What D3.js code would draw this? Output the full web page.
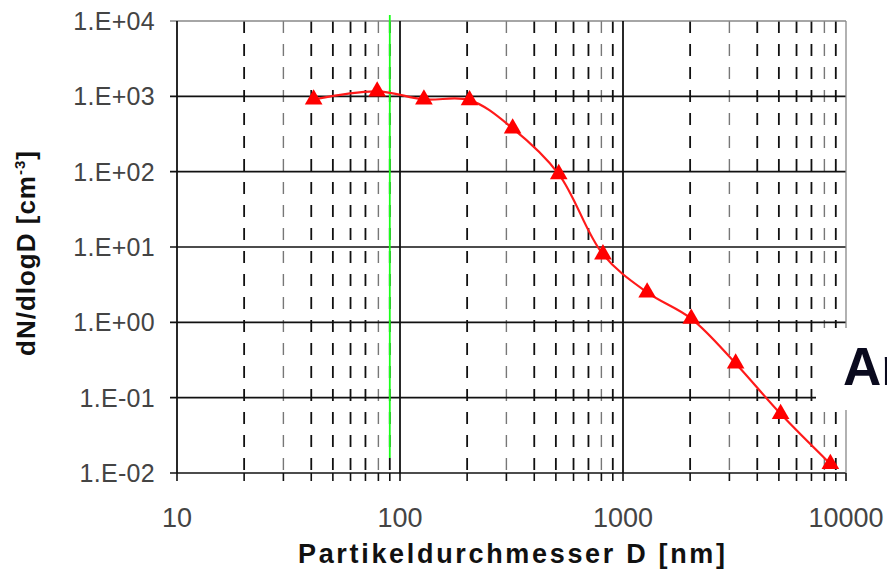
<!DOCTYPE html>
<html>
<head>
<meta charset="utf-8">
<script src="https://cdn.jsdelivr.net/npm/d3@7"></script>
<style>
  html, body { margin: 0; padding: 0; background: #fff; }
  svg { display: block; }
</style>
</head>
<body>
<svg id="chart" width="887" height="575"></svg>
<script>
// ---- data ----
const diameters = [41, 79, 128, 205, 320, 515, 813, 1283, 2023, 3200, 5090, 8510];
const counts    = [910, 1165, 910, 890, 376, 93, 8, 2.5, 1.12, 0.285, 0.061, 0.0132];
const xTickValues = [10, 100, 1000, 10000];
const xTickLabels = ["10", "100", "1000", "10000"];
const yTickValues = [1e-2, 1e-1, 1e0, 1e1, 1e2, 1e3, 1e4];
const yTickLabels = ["1.E-02", "1.E-01", "1.E+00", "1.E+01", "1.E+02", "1.E+03", "1.E+04"];
const markerDiameter = 90;
const xTitle = "Partikeldurchmesser D [nm]";
const sideText = "Ar";

const svg = d3.select("#chart");
const FONT = "'Liberation Sans', Arial, sans-serif";

const x = d3.scaleLog().domain([10, 10000]).range([177, 846]);
const y = d3.scaleLog().domain([0.01, 10000]).range([473, 21]);
const [x0, x1] = x.range();
const [y0, y1] = y.range();

// minor vertical gridlines (dashed)
const minors = [];
for (let dec = 10; dec < 10000; dec *= 10) {
  for (let m = 2; m <= 9; m++) minors.push({v: dec * m, m});
}
svg.append("g").selectAll("line").data(minors).join("line")
  .attr("x1", d => x(d.v)).attr("x2", d => x(d.v))
  .attr("y1", y1).attr("y2", y0)
  .attr("stroke", d => (d.m === 3 || d.m === 8) ? "#777" : "#111")
  .attr("stroke-width", d => (d.m === 3 || d.m === 8) ? 1.4 : 1.8)
  .attr("stroke-dasharray", "12,11");

// bottom ticks at every minor + major
const allX = minors.map(d => d.v).concat(xTickValues);
svg.append("g").selectAll("line").data(allX).join("line")
  .attr("x1", d => x(d)).attr("x2", d => x(d))
  .attr("y1", y0).attr("y2", y0 + 8)
  .attr("stroke", "#111").attr("stroke-width", 1.6);

// major horizontal gridlines
svg.append("g").selectAll("line").data(yTickValues).join("line")
  .attr("x1", x0 - 7).attr("x2", x1)
  .attr("y1", d => y(d)).attr("y2", d => y(d))
  .attr("stroke", d => d === 1e4 ? "#888" : "#111")
  .attr("stroke-width", d => d === 1e4 ? 1.3 : 1.7);

// major vertical gridlines
svg.append("g").selectAll("line").data(xTickValues).join("line")
  .attr("x1", d => x(d)).attr("x2", d => x(d))
  .attr("y1", y1).attr("y2", y0)
  .attr("stroke", d => d === 10000 ? "#888" : "#111")
  .attr("stroke-width", d => d === 10000 ? 1.3 : 1.8);

// green marker line
svg.append("line")
  .attr("x1", x(markerDiameter)).attr("x2", x(markerDiameter))
  .attr("y1", y1 - 6).attr("y2", y0 - 15)
  .attr("stroke", "#1aff1a").attr("stroke-width", 1.8);

// y tick labels
svg.append("g").selectAll("text").data(yTickValues).join("text")
  .attr("x", 155).attr("y", d => y(d) + 9)
  .attr("text-anchor", "end")
  .attr("font-family", FONT).attr("font-size", 25)
  .attr("letter-spacing", 0.3)
  .attr("fill", "#444")
  .text((d, i) => yTickLabels[i]);

// x tick labels
svg.append("g").selectAll("text").data(xTickValues).join("text")
  .attr("x", d => x(d)).attr("y", 527)
  .attr("text-anchor", "middle")
  .attr("font-family", FONT).attr("font-size", 27)
  .attr("fill", "#444")
  .text((d, i) => xTickLabels[i]);

// data line
const pts = diameters.map((d, i) => [d, counts[i]]);
svg.append("path")
  .datum(pts)
  .attr("fill", "none")
  .attr("stroke", "#ff1a1a")
  .attr("stroke-width", 2.2)
  .attr("d", d3.line().x(d => x(d[0])).y(d => y(d[1])).curve(d3.curveCatmullRom.alpha(0.5)));

// triangle markers
svg.append("g").selectAll("path").data(pts).join("path")
  .attr("transform", d => `translate(${x(d[0])},${y(d[1])})`)
  .attr("d", d3.symbol().type(d3.symbolTriangle).size(135))
  .attr("fill", "#ff0000");

// axis titles
svg.append("text")
  .attr("x", 298).attr("y", 563)
  .attr("font-family", FONT).attr("font-size", 27).attr("font-weight", "bold")
  .attr("fill", "#111")
  .attr("textLength", 427).attr("lengthAdjust", "spacing")
  .text(xTitle);

const yt = svg.append("text")
  .attr("transform", "translate(35,253) rotate(-90)")
  .attr("text-anchor", "middle")
  .attr("font-family", FONT).attr("font-size", 26).attr("font-weight", "bold")
  .attr("letter-spacing", 1)
  .attr("fill", "#111");
yt.append("tspan").text("dN/dlogD [cm");
yt.append("tspan").attr("font-size", 15).attr("dy", -10).text("-3");
yt.append("tspan").attr("dy", 10).text("]");

// side text with white box
svg.append("rect")
  .attr("x", 816).attr("y", 328).attr("width", 80).attr("height", 82)
  .attr("fill", "#fff");
svg.append("text")
  .attr("x", 843).attr("y", 385)
  .attr("font-family", FONT).attr("font-size", 53).attr("font-weight", "bold")
  .attr("fill", "#0a0a1e")
  .text(sideText);
</script>
</body>
</html>
